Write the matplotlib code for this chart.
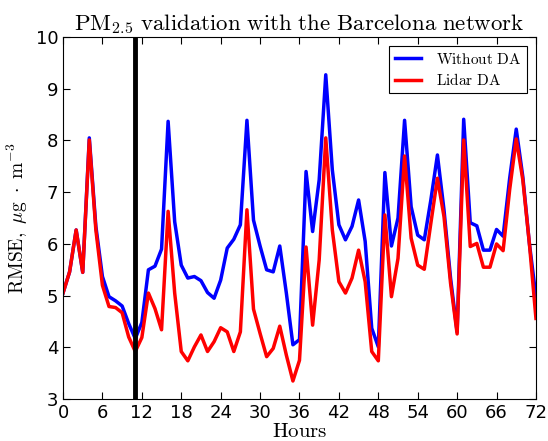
import matplotlib
matplotlib.use('Agg')
import matplotlib.pyplot as plt

plt.rcParams['mathtext.fontset'] = 'cm'

hours = list(range(0, 73))

without_da = [5.05, 5.46, 6.27, 5.45, 8.05, 6.34, 5.37, 4.98, 4.90, 4.80,
              4.46, 4.17, 4.48, 5.50, 5.57, 5.90, 8.37, 6.43, 5.59, 5.34,
              5.37, 5.29, 5.06, 4.95, 5.30, 5.92, 6.09, 6.37, 8.39, 6.46,
              5.96, 5.50, 5.46, 5.96, 5.05, 4.05, 4.15, 7.40, 6.24, 7.24,
              9.27, 7.43, 6.37, 6.08, 6.34, 6.85, 6.05, 4.37, 4.01, 7.38,
              5.96, 6.50, 8.39, 6.72, 6.17, 6.08, 6.85, 7.72, 6.66, 5.34,
              4.30, 8.41, 6.41, 6.35, 5.88, 5.88, 6.28, 6.15, 7.27, 8.22,
              7.30, 6.01, 4.98]

lidar_da = [5.05, 5.46, 6.27, 5.45, 8.01, 6.27, 5.20, 4.79, 4.77, 4.67,
            4.20, 3.92, 4.19, 5.05, 4.75, 4.34, 6.63, 5.05, 3.92, 3.74,
            4.01, 4.24, 3.92, 4.11, 4.38, 4.30, 3.92, 4.30, 6.66, 4.74,
            4.27, 3.82, 3.98, 4.41, 3.85, 3.35, 3.75, 5.94, 4.43, 5.69,
            8.05, 6.27, 5.27, 5.05, 5.34, 5.88, 5.27, 3.92, 3.74, 6.56,
            4.98, 5.72, 7.70, 6.11, 5.59, 5.51, 6.40, 7.27, 6.53, 5.24,
            4.26, 8.01, 5.95, 6.01, 5.55, 5.55, 6.00, 5.87, 7.05, 8.03,
            7.24, 6.01, 4.56]

da_start = 11

fig = plt.figure(figsize=(5.48, 4.41), dpi=100)
ax = fig.add_axes([0.115, 0.095, 0.863, 0.821])

ax.plot(hours, without_da, color='b', lw=2.5, label=r'$\mathrm{Without\ DA}$')
ax.plot(hours, lidar_da, color='r', lw=2.5, label=r'$\mathrm{Lidar\ DA}$')
ax.axvline(da_start, color='k', lw=3.5)

ax.set_xlim(0, 72)
ax.set_ylim(3, 10)
ax.set_xticks(range(0, 73, 6))
ax.set_yticks(range(3, 11))
ax.tick_params(direction='in', top=True, right=True, labelsize=13, length=5)

ax.set_xlabel(r'$\mathrm{Hours}$', fontsize=15, labelpad=-1)
ax.set_ylabel(r'$\mathrm{RMSE,}\ \mu\mathrm{g}\ \cdot\ \mathrm{m}^{-3}$', fontsize=14)
ax.yaxis.set_label_coords(-0.07, 0.5)
ax.set_title(r'$\mathrm{PM}_{2.5}\ \mathrm{validation\ with\ the\ Barcelona\ network}$',
             fontsize=16.5, pad=5)

leg = ax.legend(loc='upper right', fontsize=11, fancybox=False, framealpha=1,
                edgecolor='k', handlelength=1.7, handletextpad=1.0,
                borderaxespad=0.6, labelspacing=0.35, borderpad=0.35)
leg.get_frame().set_linewidth(0.8)

fig.savefig('out.png', dpi=100)
